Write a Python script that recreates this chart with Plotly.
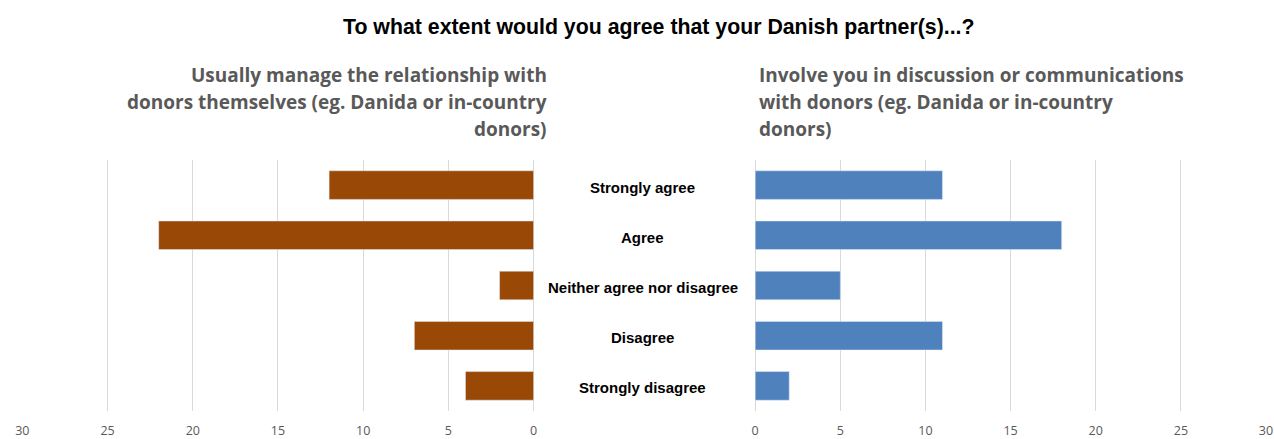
import plotly.graph_objects as go

# Survey answers (top to bottom)
categories = ["Strongly agree", "Agree", "Neither agree nor disagree", "Disagree", "Strongly disagree"]
manage_counts = [12, 22, 2, 7, 4]
involve_counts = [11, 18, 5, 11, 2]
tick_values = [0, 5, 10, 15, 20, 25, 30]

title_text = "To what extent would you agree that your Danish partner(s)...?"
left_heading = ["Usually manage the relationship with",
                "donors themselves (eg. Danida or in-country",
                "donors)"]
right_heading = ["Involve you in discussion or communications",
                 "with donors (eg. Danida or in-country",
                 "donors)"]

W, H = 1274, 439
TOP, BOTTOM = 159.5, 20.5
BROWN = "#994806"
BLUE = "#4F81BD"
GRID = "#D9D9D9"
TICKFONT = dict(family="Open Sans, Lato, sans-serif", size=12.5, color="#595959")


def py(pixel_y):
    """Convert a pixel row to paper coordinates."""
    return (H - BOTTOM - pixel_y) / (H - TOP - BOTTOM)


fig = go.Figure()
fig.add_trace(go.Bar(y=categories, x=manage_counts, orientation="h",
                     marker=dict(color=BROWN), xaxis="x", yaxis="y",
                     showlegend=False, hoverinfo="x+y"))
fig.add_trace(go.Bar(y=categories, x=involve_counts, orientation="h",
                     marker=dict(color=BLUE), xaxis="x2", yaxis="y2",
                     showlegend=False, hoverinfo="x+y"))

axis_common = dict(tickvals=tick_values, showgrid=True, gridcolor=GRID,
                   gridwidth=1, zeroline=True, zerolinecolor=GRID, zerolinewidth=1,
                   showline=False, tickfont=TICKFONT, ticks="", ticklabelstandoff=10,
                   ticklabeloverflow="allow", fixedrange=True)

fig.update_layout(
    width=W, height=H,
    margin=dict(l=0, r=0, t=TOP, b=BOTTOM),
    paper_bgcolor="white", plot_bgcolor="white",
    bargap=0.43,
    xaxis=dict(domain=[15.5 / W, 532.5 / W], range=[30, 0], **axis_common),
    xaxis2=dict(domain=[756.5 / W, 1273 / W], range=[0, 30], **axis_common),
    yaxis=dict(anchor="x", categoryorder="array", categoryarray=categories[::-1],
               showticklabels=False, showgrid=False, zeroline=False, fixedrange=True),
    yaxis2=dict(anchor="x2", matches="y", categoryorder="array", categoryarray=categories[::-1],
                showticklabels=False, showgrid=False, zeroline=False, fixedrange=True),
)

# Chart title
fig.add_annotation(text="<b>" + title_text + "</b>", xref="paper", yref="paper",
                   x=659 / W, y=py(22), xanchor="center", yanchor="middle",
                   showarrow=False,
                   font=dict(family="Liberation Sans, Arial, sans-serif", size=21.3, color="#000000"))

# Panel headings, one annotation per line for fixed line spacing
heading_font = dict(family="Open Sans, Lato, sans-serif", size=19, color="#595959")
for i, (lt, rt) in enumerate(zip(left_heading, right_heading)):
    yy = py(72 + i * 27.5)
    fig.add_annotation(text="<b>" + lt + "</b>", xref="paper", yref="paper",
                       x=548 / W, y=yy, xanchor="right", yanchor="middle",
                       showarrow=False, font=heading_font)
    fig.add_annotation(text="<b>" + rt + "</b>", xref="paper", yref="paper",
                       x=758 / W, y=yy, xanchor="left", yanchor="middle",
                       showarrow=False, font=heading_font)

# Category labels between the two panels
for cat in categories:
    fig.add_annotation(text="<b>" + cat + "</b>", xref="paper", yref="y",
                       x=643 / W, y=cat, xanchor="center", yanchor="middle", yshift=-2,
                       showarrow=False,
                       font=dict(family="Liberation Sans, Arial, sans-serif",
                                 size=15, color="#000000"))

fig.write_html("out.html")
